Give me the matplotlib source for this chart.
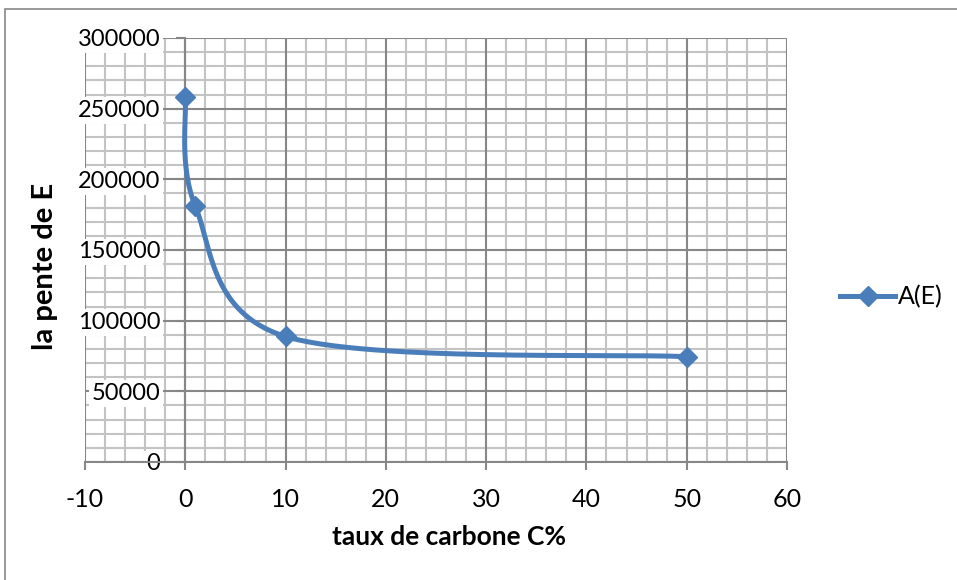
import numpy as np
import matplotlib
matplotlib.use("Agg")
import matplotlib.pyplot as plt
from matplotlib.ticker import MultipleLocator
from matplotlib.patches import Rectangle

plt.rcParams['font.family'] = ['Lato', 'DejaVu Sans']
plt.rcParams['axes.unicode_minus'] = False

# données mesurées
taux_carbone = [0, 1, 10, 50]
pente_E = [258600, 181000, 88800, 74500]
nom_serie = 'A(E)'

bleu = '#4A7EBB'
gris_major = '#878787'
gris_minor = '#C3C3C3'

fig = plt.figure(figsize=(9.57, 5.8), dpi=100)
pos = [85 / 957, 1 - 462 / 580, 702 / 957, 424 / 580]

# cadre du graphique (style tableur)
fig.patches.append(Rectangle((5 / 957, -0.1), 1.2, 1.1 - 9 / 580,
                             transform=fig.transFigure, fill=False,
                             edgecolor=gris_major, lw=1.2))

# quadrillage secondaire sur un axe de fond
fond = fig.add_axes(pos)
fond.set_xlim(-10, 60)
fond.set_ylim(0, 300000)
fond.xaxis.set_major_locator(MultipleLocator(10))
fond.xaxis.set_minor_locator(MultipleLocator(2))
fond.yaxis.set_major_locator(MultipleLocator(50000))
fond.yaxis.set_minor_locator(MultipleLocator(10000))
fond.grid(which='minor', color=gris_minor, lw=1.5)
fond.tick_params(which='both', length=0, labelbottom=False, labelleft=False)
for s in fond.spines.values():
    s.set_visible(False)

ax = fig.add_axes(pos, facecolor='none')
ax.set_xlim(-10, 60)
ax.set_ylim(0, 300000)
ax.xaxis.set_major_locator(MultipleLocator(10))
ax.yaxis.set_major_locator(MultipleLocator(50000))
ax.set_axisbelow(True)
ax.grid(which='major', color=gris_major, lw=1.5)

ax.spines['top'].set_visible(False)
ax.spines['right'].set_visible(False)
ax.spines['left'].set_position(('data', 0))
ax.spines['left'].set_color(gris_major)
ax.spines['left'].set_linewidth(1.5)
ax.spines['bottom'].set_color(gris_major)
ax.spines['bottom'].set_linewidth(1.5)

ax.tick_params(axis='x', direction='out', length=6, width=1.5, color=gris_major,
               pad=13, labelsize=18)
ax.tick_params(axis='y', direction='out', length=6.5, width=1.5, color=gris_major,
               pad=11.5, labelsize=17)
ax.set_yticks(np.arange(0, 300001, 50000))
ax.set_yticklabels([str(v) for v in range(0, 300001, 50000)])
plt.setp(ax.get_yticklabels(), bbox=dict(facecolor='white', edgecolor='none', pad=2))


# courbe lissée façon tableur : Bézier avec points de contrôle à 1/6
def courbe_lissee(xs, ys, sx, sy, n=60):
    P = np.column_stack([np.asarray(xs, float) * sx, np.asarray(ys, float) * sy])
    out = [P[0]]
    for i in range(len(P) - 1):
        p0 = P[i - 1] if i > 0 else P[i]
        p1, p2 = P[i], P[i + 1]
        p3 = P[i + 2] if i + 2 < len(P) else P[i + 1]
        d12 = np.hypot(*(p2 - p1))
        d02 = np.hypot(*(p2 - p0))
        d13 = np.hypot(*(p3 - p1))
        f0 = 1 / 6 if d02 / 6 < d12 / 2 or d02 == 0 else d12 / d02 / 2
        f1 = 1 / 6 if d13 / 6 < d12 / 2 or d13 == 0 else d12 / d13 / 2
        b1 = p1 + (p2 - p0) * f0
        b2 = p2 - (p3 - p1) * f1
        t = np.linspace(0, 1, n)[1:, None]
        seg = ((1 - t) ** 3) * p1 + 3 * ((1 - t) ** 2) * t * b1 \
            + 3 * (1 - t) * t ** 2 * b2 + t ** 3 * p2
        out.extend(seg)
    out = np.array(out)
    return out[:, 0] / sx, out[:, 1] / sy


sx = 702 / 70
sy = 424 / 300000
cx, cy = courbe_lissee(taux_carbone, pente_E, sx, sy)
ax.plot(cx, cy, color=bleu, lw=3.6, solid_capstyle='round', zorder=3)
ax.plot(taux_carbone, pente_E, linestyle='none', marker='D', ms=10.5,
        color=bleu, zorder=4)

# entrée de légende : ligne + losange
ax.plot([], [], color=bleu, lw=3.6, marker='D', ms=10.5, label=nom_serie)
leg = ax.legend(loc='center left', bbox_to_anchor=(840 / 957, 1 - 297 / 580),
                bbox_transform=fig.transFigure, frameon=False, fontsize=18,
                handlelength=2.2, handletextpad=0.12, borderpad=0,
                borderaxespad=0)

fig.text(449 / 957, 1 - 537 / 580, 'taux de carbone C%', fontsize=19,
         fontweight='bold', ha='center', va='center')
fig.text(45 / 957, 1 - 266 / 580, 'la pente de E', fontsize=21,
         fontweight='bold', ha='center', va='center', rotation=90)

fig.savefig('out.png', dpi=100)
